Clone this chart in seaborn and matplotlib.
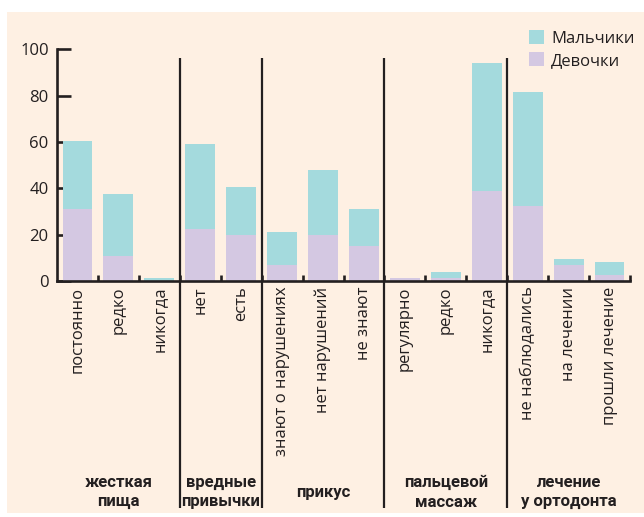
import matplotlib
matplotlib.use("Agg")
import matplotlib.pyplot as plt
import matplotlib.transforms as mtransforms
from matplotlib.patches import Rectangle, Patch
import seaborn as sns
import pandas as pd
import numpy as np

categories = ["постоянно", "редко", "никогда", "нет", "есть",
              "знают о нарушениях", "нет нарушений", "не знают",
              "регулярно", "редко ", "никогда ",
              "не наблюдались", "на лечении", "прошли лечение"]
girls = [31, 11, 0, 22.4, 20, 7, 20, 15.2, 1.5, 1.5, 38.8, 32.5, 7, 2.6]
boys = [29.5, 26.5, 1.5, 36.7, 20.6, 14, 28, 16, 0, 2.5, 55.3, 49.1, 2.5, 5.6]
groups = ["жесткая\nпища", "вредные\nпривычки", "прикус", "пальцевой\nмассаж", "лечение\nу ортодонта"]
group_sizes = [3, 2, 3, 3, 3]

C_BOYS = "#a4dadd"
C_GIRLS = "#d4c8e2"
C_BG = "#fef0e3"
C_DARK = "#231f20"

sns.set_theme(style="white")
plt.rcParams["font.family"] = ["Open Sans", "DejaVu Sans"]

df = pd.DataFrame({"cat": categories, "girls": girls, "boys": boys})
df["total"] = df["girls"] + df["boys"]

W, H = 644, 517
fig = plt.figure(figsize=(W / 100, H / 100), dpi=100, facecolor="white")
bg = Rectangle((7 / W, 1 - 513 / H), 1 - 7 / W, (513 - 12) / H,
               transform=fig.transFigure, facecolor=C_BG, edgecolor="none", zorder=-10)
fig.add_artist(bg)

ax = fig.add_axes([57 / W, 1 - 281 / H, (630 - 57) / W, (281 - 49.3) / H])
ax.set_facecolor("none")
ax.set_zorder(1)

sns.barplot(data=df, x="cat", y="total", order=categories, color=C_BOYS,
            saturation=1, width=0.73, ax=ax, edgecolor="none", linewidth=0)
sns.barplot(data=df, x="cat", y="girls", order=categories, color=C_GIRLS,
            saturation=1, width=0.73, ax=ax, edgecolor="none", linewidth=0)

ax.set_xlim(-0.5, 13.5)
ax.set_ylim(0, 100)
ax.set_xlabel("")
ax.set_ylabel("")

for s in ["top", "right"]:
    ax.spines[s].set_visible(False)
for s in ["left", "bottom"]:
    ax.spines[s].set_color(C_DARK)
    ax.spines[s].set_linewidth(1.9)

ax.set_yticks([0, 20, 40, 60, 80, 100])
ax.tick_params(axis="y", direction="in", length=10, width=1.9, color=C_DARK,
               labelsize=12, labelcolor=C_DARK, pad=6, left=True)

ax.set_xticks(range(len(categories)))
ax.set_xticklabels([c.strip() for c in categories], rotation=90, va="top", ha="center")
ax.tick_params(axis="x", which="major", length=0, labelsize=12, labelcolor=C_DARK, pad=4)
ax.set_xticks(np.arange(0.5, 13.6, 1.0), minor=True)
ax.tick_params(axis="x", which="minor", direction="in", length=4, width=1.9,
               color=C_DARK, bottom=True)

# group separators and labels
trans = mtransforms.blended_transform_factory(ax.transData, fig.transFigure)
bounds = np.cumsum(group_sizes)
start = 0
for g, n in zip(groups, group_sizes):
    center = start + (n - 1) / 2
    ax.text(center, 1 - 492 / H, g, transform=trans, ha="center", va="center",
            fontsize=12, fontweight="bold", color=C_DARK, linespacing=1.4,
            family=["Roboto", "DejaVu Sans"])
    start += n
for b in bounds[:-1]:
    ax.plot([b - 0.5, b - 0.5], [1 - 58 / H, 1 - 508 / H], transform=trans,
            color=C_DARK, lw=1.6, clip_on=False, solid_capstyle="butt")

handles = [Patch(facecolor=C_BOYS, edgecolor="none", label="Мальчики"),
           Patch(facecolor=C_GIRLS, edgecolor="none", label="Девочки")]
fig.legend(handles=handles, loc="upper left", bbox_to_anchor=(526 / W, 1 - 27 / H),
           frameon=False, fontsize=12, handlelength=0.9, handleheight=0.9,
           handletextpad=0.4, labelspacing=0.3, borderaxespad=0, borderpad=0.2,
           labelcolor=C_DARK)

fig.savefig("out.png", dpi=100, facecolor="white")
